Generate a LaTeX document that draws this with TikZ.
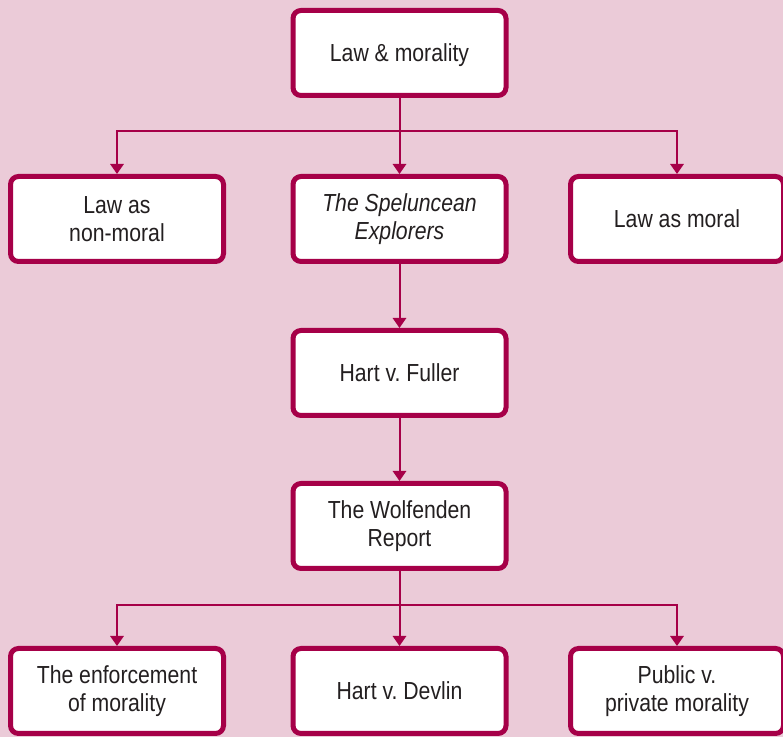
\documentclass[tikz,border=0pt]{standalone}
\usepackage{fontspec}
\setmainfont{Liberation Sans}[FakeStretch=0.86]
\frenchspacing
\usetikzlibrary{arrows.meta}
\definecolor{wine}{RGB}{166,0,72}
\definecolor{blush}{RGB}{235,203,216}
\definecolor{ink}{RGB}{35,31,32}
\tikzset{
  topic/.style={draw=wine, line width=3.75pt, rounded corners=6pt, fill=white,
    minimum width=159.75pt, minimum height=63.75pt, align=center, text=ink,
    font=\fontsize{18.5}{20.5}\selectfont},
  single/.style={topic, text depth=0pt},
  link/.style={wine, line width=1.5pt, -{Triangle[length=7.5pt,width=10pt]}},
  plain/.style={wine, line width=1.5pt}
}
\begin{document}
\begin{tikzpicture}[x=0.75pt,y=-0.75pt]
  \fill[blush] (0,0) rectangle (783,737);
  \useasboundingbox (0,0) rectangle (783,737);
  \node[single] at (399.5,53) (lawmor) {Law \& morality};
  \node[topic] at (117,219) (nonmoral) {Law as\\non-moral};
  \node[topic] at (399.5,219) (cave) {\textit{The Speluncean}\\\textit{Explorers}};
  \node[single] at (677,219) (moral) {Law as moral};
  \node[single] at (399.5,373) (fuller) {Hart v. Fuller};
  \node[topic] at (399.5,526) (wolf) {The Wolfenden\\Report};
  \node[topic] at (117,691) (enforce) {The enforcement\\of morality};
  \node[single] at (399.5,691) (devlin) {Hart v. Devlin};
  \node[topic] at (677,691) (public) {Public v.\\private morality};
  \coordinate (fork1) at (399.5,131);
  \coordinate (fork2) at (399.5,605);
  % first split
  \draw[plain] (lawmor) -- (fork1);
  \draw[link] (fork1) -| (nonmoral); \draw[link] (fork1) -- (cave);
  \draw[link] (fork1) -| (moral);
  % middle chain
  \draw[link] (cave) -- (fuller); \draw[link] (fuller) -- (wolf);
  % second split
  \draw[plain] (wolf) -- (fork2);
  \draw[link] (fork2) -| (enforce); \draw[link] (fork2) -- (devlin);
  \draw[link] (fork2) -| (public);
\end{tikzpicture}
\end{document}
